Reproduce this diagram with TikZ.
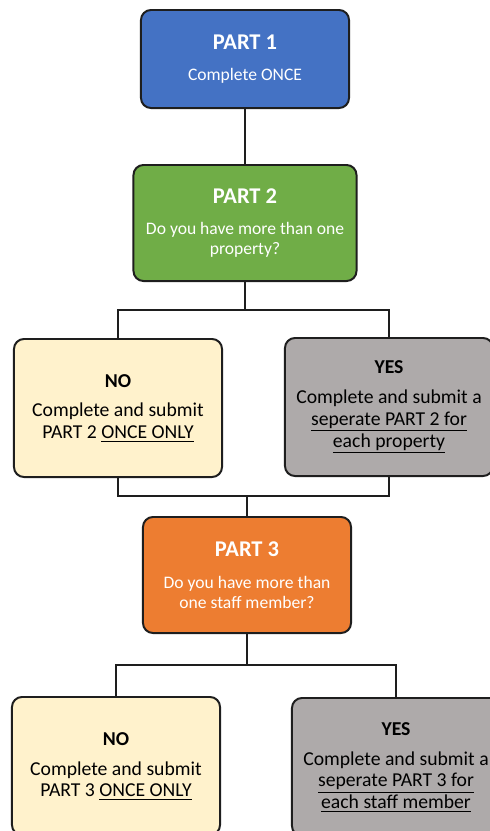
\documentclass[tikz,border=0pt]{standalone}
\usepackage{fontspec}
\setmainfont{Carlito}
\usepackage{xcolor}
\usepackage{tikz}
\usetikzlibrary{positioning}
\definecolor{pBlue}{RGB}{68, 114, 196}
\definecolor{pGreen}{RGB}{112, 173, 71}
\definecolor{pOrange}{RGB}{237, 125, 49}
\definecolor{pCream}{RGB}{255, 242, 204}
\definecolor{pGray}{RGB}{174, 170, 170}
\definecolor{pLine}{RGB}{30, 30, 30}
\tikzset{
    base/.style={
        align=center,
        rectangle,
        rounded corners=2.5mm,
        draw=pLine,
        line width=1.4pt,
        inner sep=0pt
    },
    partbox/.style={
        base,
        text=white,
        minimum width=5.2cm,
        minimum height=2.9cm,
        font=\fontsize{12.5}{14.2}\selectfont
    },
    answer/.style={
        base,
        text=black,
        minimum width=5.2cm,
        minimum height=3.45cm,
        font=\fontsize{14}{15.6}\selectfont
    },
    nobox/.style={
        answer,
        fill=pCream
    },
    yesbox/.style={
        answer,
        fill=pGray
    },
    link/.style={
        line width=1.1pt,
        color=pLine
    }
}
\newcommand{\parttitle}[1]{{\fontsize{16}{19}\selectfont\bfseries #1}}
\newcommand{\answertitle}[1]{{\fontsize{14}{17}\selectfont\bfseries #1}}

\begin{document}
\begin{tikzpicture}[x=0.025cm, y=-0.025cm]
  \useasboundingbox (0,0) rectangle (490,831);
  \clip (0,0) rectangle (490,831);

  % Parts
  \node[partbox, fill=pBlue, minimum height=2.45cm] (part1) at (245,59)
      {\parttitle{PART 1}\\[8pt] Complete ONCE};
  \node[partbox, fill=pGreen, minimum width=5.575cm] (part2) at (245,223)
      {\parttitle{PART 2}\\[8.5pt] Do you have more than one\\ property?};
  \node[partbox, fill=pOrange] (part3) at (247,575)
      {\parttitle{PART 3}\\[8.5pt] Do you have more than\\ one staff member?};

  % Answers to part 2
  \node[nobox] (no1) at (118,408)
      {\answertitle{NO}\\[5.7pt] Complete and submit\\ PART 2 \underline{ONCE ONLY}};
  \node[yesbox] (yes1) at (389,407)
      {\answertitle{YES}\\[5.7pt] Complete and submit a\\ \underline{seperate PART 2 for}\\ \underline{each property}};

  % Answers to part 3
  \node[nobox] (no2) at (116,766)
      {\answertitle{NO}\\[5.7pt] Complete and submit\\ PART 3 \underline{ONCE ONLY}};
  \node[yesbox] (yes2) at (396,767)
      {\answertitle{YES}\\[5.7pt] Complete and submit a\\ \underline{seperate PART 3 for}\\ \underline{each staff member}};

  % Connectors
  \coordinate (split1) at (245,310);
  \coordinate (join1) at (247,496);
  \coordinate (split2) at (247,665);

  \draw[link] (part1) -- (part2);
  \draw[link] (part2.south) -- (split1);
  \draw[link] (no1.north) |- (split1) -| (yes1.north);
  \draw[link] (no1.south) |- (join1) -| (yes1.south);
  \draw[link] (join1) -- (part3.north);
  \draw[link] (part3.south) -- (split2);
  \draw[link] (no2.north) |- (split2) -| (yes2.north);
\end{tikzpicture}
\end{document}
